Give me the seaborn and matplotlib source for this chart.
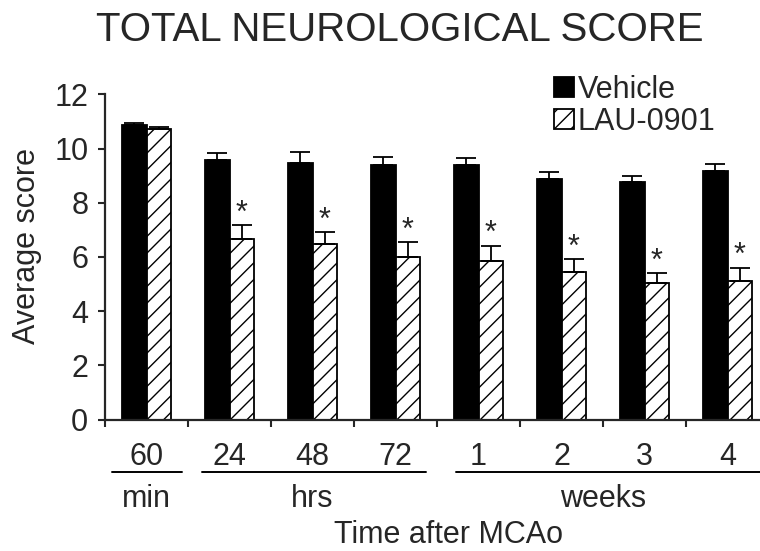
"""Total neurological score: Vehicle vs LAU-0901 after MCAo."""

import matplotlib
matplotlib.use("Agg")
import matplotlib.pyplot as plt
import matplotlib.transforms as mtransforms
from matplotlib.patches import Patch
import numpy as np
import pandas as pd
import seaborn as sns


TIME_LABELS = ["60", "24", "48", "72", "1", "2", "3", "4"]
VEHICLE_MEAN = [10.87, 9.58, 9.48, 9.39, 9.39, 8.86, 8.76, 9.16]
VEHICLE_SEM = [0.08, 0.27, 0.39, 0.28, 0.25, 0.26, 0.23, 0.27]
LAU_MEAN = [10.71, 6.66, 6.46, 6.01, 5.85, 5.43, 5.02, 5.12]
LAU_SEM = [0.10, 0.50, 0.46, 0.53, 0.56, 0.49, 0.38, 0.48]
LAU_SIGNIFICANT = [False, True, True, True, True, True, True, True]
UNIT_GROUPS = [("min", 0, 0), ("hrs", 1, 3), ("weeks", 4, 7)]
TREATMENTS = ["Vehicle", "LAU-0901"]

FILLS = {"Vehicle": "black", "LAU-0901": "white"}
HATCHES = {"Vehicle": "", "LAU-0901": "//"}
# how far each bracket reaches past its first / last bar group
BRACKET_PAD = {"min": (0.42, 0.43), "hrs": (0.33, 0.37), "weeks": (0.27, 0.62)}
FS = 22

sns.set_style("ticks")
plt.rcParams["font.family"] = ["Liberation Sans", "DejaVu Sans"]
plt.rcParams["hatch.linewidth"] = 1.0
plt.rcParams["hatch.color"] = "black"

df = pd.DataFrame({
    "time": TIME_LABELS * 2,
    "treatment": ["Vehicle"] * len(TIME_LABELS) + ["LAU-0901"] * len(TIME_LABELS),
    "score": VEHICLE_MEAN + LAU_MEAN,
})
errors = {"Vehicle": VEHICLE_SEM, "LAU-0901": LAU_SEM}

fig, ax = plt.subplots(figsize=(7.6, 5.51), dpi=100)
ax.set_position([105 / 760, 1 - 419.5 / 551, 664 / 760, 325.2 / 551])

sns.barplot(
    data=df, x="time", y="score", hue="treatment",
    order=TIME_LABELS, hue_order=TREATMENTS, palette=FILLS,
    width=0.6, errorbar=None, edgecolor="black", linewidth=1.3,
    legend=False, ax=ax,
)

for container, name in zip(ax.containers, TREATMENTS):
    xs = [bar.get_x() + bar.get_width() / 2 for bar in container]
    tops = [bar.get_height() for bar in container]
    for bar in container:
        bar.set_hatch(HATCHES[name])
    ax.errorbar(xs, tops, yerr=[np.zeros(len(tops)), errors[name]], fmt="none",
                ecolor="black", elinewidth=1.3, capsize=7.5, capthick=1.3, zorder=3)
    if name == "LAU-0901":
        for x, top, err, sig in zip(xs, tops, errors[name], LAU_SIGNIFICANT):
            if sig:
                ax.annotate("*", xy=(x, top + err), xytext=(0, 2.5),
                            textcoords="offset points", ha="center",
                            va="baseline", fontsize=FS)

ax.set_ylim(0, 12)
ax.set_xlim(-0.5, len(TIME_LABELS) - 0.5)
ax.set_yticks(range(0, 13, 2))
ax.set_xticks(np.arange(-0.5, len(TIME_LABELS), 1), minor=True)
ax.tick_params(axis="x", which="major", length=0, pad=16, labelsize=FS)
ax.tick_params(axis="x", which="minor", length=5, width=1.5, direction="out")
ax.tick_params(axis="y", length=5, width=1.5, direction="out", pad=7, labelsize=FS)
for side in ("left", "bottom"):
    ax.spines[side].set_linewidth(1.6)
sns.despine(ax=ax)

ax.set_xlabel("")
ax.set_ylabel("Average score", fontsize=FS)
ax.yaxis.set_label_coords(-0.095, 0.533)

# unit brackets under the tick labels
trans = mtransforms.blended_transform_factory(ax.transData, ax.transAxes)
for unit, first, last in UNIT_GROUPS:
    pad_l, pad_r = BRACKET_PAD[unit]
    ax.plot([first - pad_l, last + pad_r], [-0.1605, -0.1605], color="black",
            lw=1.4, transform=trans, clip_on=False)
    ax.text((first + last) / 2, -0.269, unit, transform=trans, ha="center",
            va="baseline", fontsize=FS)
ax.text(0.517, -0.38, "Time after MCAo", transform=ax.transAxes, ha="center",
        va="baseline", fontsize=FS)

fig.text(400 / 760, 1 - 41 / 551, "TOTAL NEUROLOGICAL SCORE", ha="center",
         va="baseline", fontsize=29)

handles = [Patch(facecolor=FILLS[name], edgecolor="black", linewidth=1.3,
                 hatch=HATCHES[name], label=name) for name in TREATMENTS]
ax.legend(handles=handles, loc="upper left",
          bbox_to_anchor=(554 / 760, 1 - 75 / 551),
          bbox_transform=fig.transFigure, frameon=False, fontsize=FS,
          handlelength=0.65, handleheight=0.65, handletextpad=0.12,
          labelspacing=0.05, borderpad=0, borderaxespad=0)

fig.savefig("out.png", dpi=100)
